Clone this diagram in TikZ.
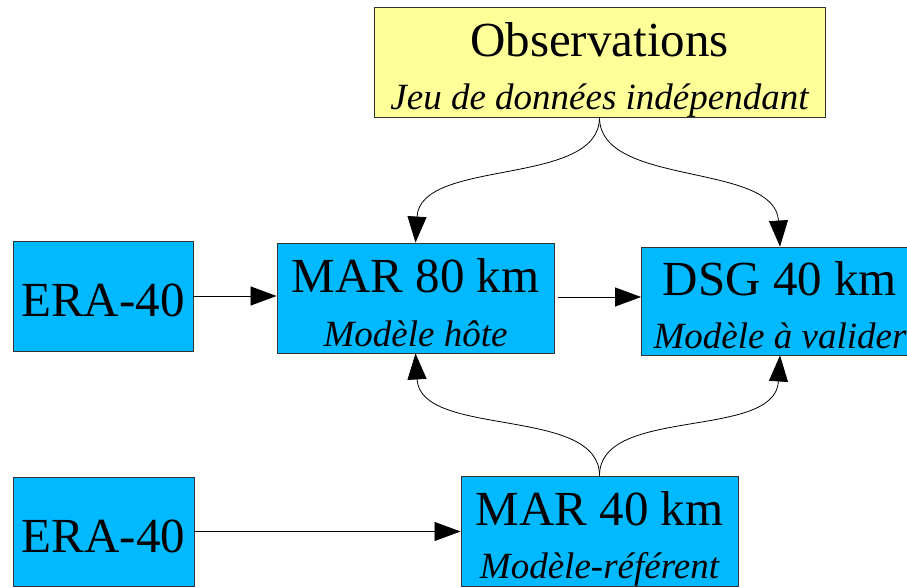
\documentclass[tikz,border=0pt]{standalone}
\usepackage{fontspec}
\setmainfont{Liberation Serif}
\usetikzlibrary{arrows.meta,calc}
\definecolor{boxblue}{RGB}{0,185,255}
\definecolor{boxyellow}{RGB}{255,255,153}
\definecolor{edgegray}{RGB}{50,50,50}
\begin{document}
\begin{tikzpicture}[x=1pt,y=-1pt,
  box/.style={draw=edgegray, line width=0.9pt, fill=boxblue, inner sep=0pt},
  obsbox/.style={box, fill=boxyellow},
  big/.style={font=\fontsize{49}{55}\selectfont, inner sep=0pt, anchor=base},
  small/.style={font=\fontsize{37}{42}\selectfont\itshape, inner sep=0pt, anchor=base},
  arr/.style={line width=0.8pt, -{Triangle[length=26pt,width=19pt]}}]
\clip (0,0) rectangle (907,588);
% boxes
\node[obsbox, minimum width=451pt, minimum height=110pt] (obs) at (599.5,62) {};
\node[box, minimum width=180pt, minimum height=110pt] (era1) at (103,296) {};
\node[box, minimum width=277pt, minimum height=110pt] (mar80) at (415.5,298) {};
\node[box, minimum width=277pt, minimum height=108pt] (dsg) at (780,301) {};
\node[box, minimum width=181pt, minimum height=109pt] (era2) at (103.5,531.5) {};
\node[box, minimum width=277pt, minimum height=110pt] (mar40) at (599.5,531) {};
% texts
\node[big] (obst) at ($(obs.north)+(0,50)$) {Observations};
\node[small] (obss) at ($(obs.north)+(0,103)$) {Jeu de données indépendant};
\node[big] (era1t) at ($(era1.north)+(0,76)$) {ERA-40};
\node[big] (mar80t) at ($(mar80.north)+(0,50)$) {MAR 80 km};
\node[small] (mar80s) at ($(mar80.north)+(0,104)$) {Modèle hôte};
\node[big] (dsgt) at ($(dsg.north)+(0,49)$) {DSG 40 km};
\node[small] (dsgs) at ($(dsg.north)+(0,102)$) {Modèle à valider};
\node[big] (era2t) at ($(era2.north)+(0,76)$) {ERA-40};
\node[big] (mar40t) at ($(mar40.north)+(0,50)$) {MAR 40 km};
\node[small] (mar40s) at ($(mar40.north)+(0,103)$) {Modèle-référent};
% straight arrows
\draw[arr] (era1.east) -- (era1.east -| mar80.west);
\draw[arr, shorten <=4pt] ($(mar80.east)+(0,-1)$) -- ($(mar80.east -| dsg.west)+(0,-1)$);
\draw[arr] (era2.east) -- (era2.east -| mar40.west);
% curved arrows
\draw[arr] (obs.south) .. controls ($(obs.south)+(0,70)$) and ($(mar80.north)+(5,-85)$) .. (mar80.north);
\draw[arr] (obs.south) .. controls ($(obs.south)+(0,70)$) and ($(dsg.north)+(-5,-85)$) .. (dsg.north);
\draw[arr] (mar40.north) .. controls ($(mar40.north)+(0,-70)$) and ($(mar80.south)+(5,85)$) .. (mar80.south);
\draw[arr] (mar40.north) .. controls ($(mar40.north)+(0,-70)$) and ($(dsg.south)+(-5,85)$) .. (dsg.south);
\end{tikzpicture}
\end{document}
